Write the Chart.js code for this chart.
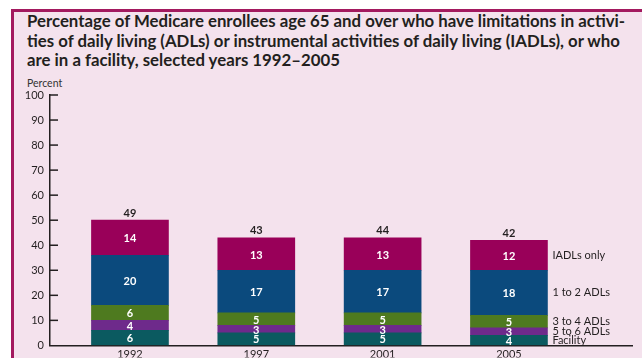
<!DOCTYPE html>
<html>
<head>
<meta charset="utf-8">
<script src="https://cdn.jsdelivr.net/npm/chart.js@4.4.1/dist/chart.umd.min.js"></script>
<style>
  html, body { margin: 0; padding: 0; background: #fff; }
  body { width: 642px; height: 358px; position: relative; overflow: hidden; font-family: Lato, "Open Sans", sans-serif; }
  #panel {
    position: absolute; left: 11px; top: 9px; width: 660px; height: 380px;
    background: #f4e2ed; border-left: 3px solid #a3195f; border-top: 3px solid #a3195f;
  }
  #title {
    position: absolute; left: 27px; top: 11px; margin: 0; white-space: nowrap;
    font-size: 16.8px; font-weight: bold; line-height: 19.5px; color: #231f20;
  }
  #unit { position: absolute; left: 27px; top: 77px; font-size: 10.5px; color: #333; }
  #chart { position: absolute; left: 0; top: 0; }
</style>
</head>
<body>
<div id="panel"></div>
<h1 id="title">Percentage of Medicare enrollees age 65 and over who have limitations in activi-<br>ties of daily living (ADLs) or instrumental activities of daily living (IADLs), or who<br>are in a facility, selected years 1992–2005</h1>
<div id="unit">Percent</div>
<canvas id="chart" width="642" height="358"></canvas>
<script>
// data
const years = ["1992", "1997", "2001", "2005"];
const facility = [6, 5, 5, 4];
const adl56 = [4, 3, 3, 3];
const adl34 = [6, 5, 5, 5];
const adl12 = [20, 17, 17, 18];
const iadlOnly = [14, 13, 13, 12];
const totals = [49, 43, 44, 42];
const seriesNames = ["Facility", "5 to 6 ADLs", "3 to 4 ADLs", "1 to 2 ADLs", "IADLs only"];
const yTicks = [0, 10, 20, 30, 40, 50, 60, 70, 80, 90, 100];

const colors = ["#0b5a60", "#6e2a8b", "#4e7a1f", "#0b4a7d", "#990059"];
const series = [facility, adl56, adl34, adl12, iadlOnly];

const toPoints = arr => arr.map((v, i) => ({ x: i, y: v }));

// segment values, totals and the series names at the right
const labelPlugin = {
  id: "labels",
  afterDatasetsDraw(chart) {
    const ctx = chart.ctx;
    ctx.save();
    ctx.textBaseline = "middle";
    chart.data.datasets.forEach((ds, di) => {
      const meta = chart.getDatasetMeta(di);
      meta.data.forEach((bar, i) => {
        const cy = (bar.y + bar.base) / 2;
        ctx.font = "bold 11px Lato";
        ctx.fillStyle = "#fff";
        ctx.textAlign = "center";
        ctx.fillText(series[di][i], bar.x, cy + 1);
        if (i === meta.data.length - 1) {
          ctx.font = "11px Lato";
          ctx.fillStyle = "#231f20";
          ctx.textAlign = "left";
          ctx.fillText(seriesNames[di], bar.x + bar.width / 2 + 5, cy);
        }
      });
    });
    // totals above the top segment
    const top = chart.getDatasetMeta(chart.data.datasets.length - 1);
    ctx.font = "bold 11px Lato";
    ctx.fillStyle = "#231f20";
    ctx.textAlign = "center";
    top.data.forEach((bar, i) => {
      ctx.fillText(totals[i], bar.x, bar.y - 7);
    });
    ctx.restore();
  },
  afterDraw(chart) {
    // inner tick marks on the y axis
    const y = chart.scales.y;
    const ctx = chart.ctx;
    ctx.save();
    ctx.strokeStyle = "#231f20";
    ctx.lineWidth = 1.5;
    yTicks.forEach(v => {
      if (v === 0) return;
      const py = y.getPixelForValue(v);
      ctx.beginPath();
      ctx.moveTo(y.right, py);
      ctx.lineTo(y.right + 8, py);
      ctx.stroke();
    });
    ctx.restore();
  }
};

const datasets = series.map((arr, i) => ({
  label: seriesNames[i],
  data: toPoints(arr),
  backgroundColor: colors[i],
  borderWidth: 0,
  barThickness: 77
}));

new Chart(document.getElementById("chart"), {
  type: "bar",
  data: { datasets },
  plugins: [labelPlugin],
  options: {
    responsive: false,
    animation: false,
    layout: { padding: { top: 95, left: 0, right: 10, bottom: 0 } },
    plugins: { legend: { display: false }, tooltip: { enabled: false } },
    scales: {
      x: {
        type: "linear",
        stacked: true,
        offset: false,
        min: -0.633,
        max: 3.974,
        afterBuildTicks: s => { s.ticks = years.map((_, i) => ({ value: i })); },
        afterFit: s => { s.height = 12; },
        ticks: {
          padding: 2,
          autoSkip: false,
          color: "#231f20",
          font: { family: "Lato", size: 11 },
          callback: v => years[v]
        },
        grid: { display: true, offset: false, drawOnChartArea: false, drawTicks: false },
        border: { display: true, color: "#231f20", width: 1.5 }
      },
      y: {
        stacked: true,
        min: 0,
        max: 100,
        afterBuildTicks: s => { s.ticks = yTicks.map(v => ({ value: v })); },
        afterFit: s => { s.width = 50; },
        ticks: {
          padding: 6,
          color: "#231f20",
          font: { family: "Lato", size: 11 }
        },
        grid: { display: true, drawOnChartArea: false, drawTicks: false },
        border: { display: true, color: "#231f20", width: 1.5 }
      }
    }
  }
});
</script>
</body>
</html>
